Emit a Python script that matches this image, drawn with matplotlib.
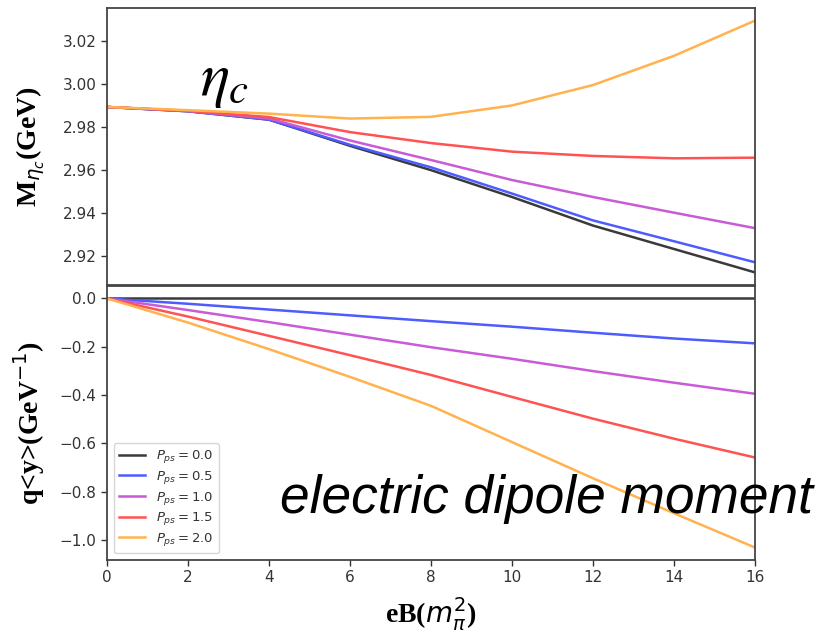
"""
eta_c mass and electric dipole moment vs magnetic field, for several P_ps values
"""

import matplotlib
matplotlib.use('Agg')
import matplotlib.pyplot as plt

# eB in units of m_pi^2
eB = [0, 2, 4, 6, 8, 10, 12, 14, 16]
p_ps = [0.0, 0.5, 1.0, 1.5, 2.0]

# M_eta_c (GeV)
mass_00 = [2.9892, 2.9872, 2.9833, 2.9711, 2.9598, 2.9473, 2.9340, 2.9231, 2.9122]
mass_05 = [2.9892, 2.9872, 2.9833, 2.9716, 2.9611, 2.9489, 2.9364, 2.9267, 2.9169]
mass_10 = [2.9892, 2.9873, 2.9838, 2.9736, 2.9645, 2.9552, 2.9473, 2.9400, 2.9328]
mass_15 = [2.9892, 2.9874, 2.9845, 2.9775, 2.9724, 2.9684, 2.9664, 2.9653, 2.9656]
mass_20 = [2.9892, 2.9877, 2.9861, 2.9838, 2.9846, 2.9899, 2.9994, 3.0130, 3.0294]

# q<y> (GeV^-1)
dip_00 = [0, 0, 0, 0, 0, 0, 0, 0, 0]
dip_05 = [0, -0.022, -0.046, -0.070, -0.094, -0.117, -0.142, -0.166, -0.186]
dip_10 = [0, -0.048, -0.098, -0.150, -0.202, -0.250, -0.301, -0.349, -0.395]
dip_15 = [0, -0.075, -0.155, -0.235, -0.317, -0.408, -0.498, -0.581, -0.659]
dip_20 = [0, -0.100, -0.210, -0.325, -0.445, -0.595, -0.745, -0.890, -1.032]

colors = ['#3a3a3a', '#4d5cff', '#c95bd6', '#ff5252', '#ffb24d']

masses = [mass_00, mass_05, mass_10, mass_15, mass_20]
dipoles = [dip_00, dip_05, dip_10, dip_15, dip_20]

fig = plt.figure(figsize=(8.18, 6.33), dpi=100)
W, H = 818, 633

def px_axes(left, top, right, bottom):
    return fig.add_axes([left / W, 1 - bottom / H, (right - left) / W, (bottom - top) / H])

ax1 = px_axes(107, 8, 755, 285)
ax2 = px_axes(107, 286, 755, 560)

for m, d, c, p in zip(masses, dipoles, colors, p_ps):
    ax1.plot(eB, m, color=c, lw=1.8)
    ax2.plot(eB, d, color=c, lw=1.8, label=r'$P_{ps}=%.1f$' % p)

label_font = dict(family='Liberation Serif', weight='bold', size=20)

ax1.set_xlim(0, 16)
ax2.set_xlim(0, 16)
ax1.set_yticks([2.92, 2.94, 2.96, 2.98, 3.00, 3.02])
ax2.set_yticks([0.0, -0.2, -0.4, -0.6, -0.8, -1.0])
ax2.set_xticks(range(0, 17, 2))
ax1.tick_params(axis='x', bottom=False, labelbottom=False)

for ax in (ax1, ax2):
    ax.tick_params(labelsize=11, colors='#333333', length=4.5, width=1, pad=3)
    for s in ax.spines.values():
        s.set_color('#444444')
        s.set_linewidth(1.3)

ax1.set_ylabel(r'M$_{\eta_c}$(GeV)', fontdict=label_font)
ax1.yaxis.set_label_coords(-0.092, 0.5)
ax2.set_ylabel(r'q<y>(GeV$^{-1}$)', fontdict=label_font)
ax2.yaxis.set_label_coords(-0.092, 0.5)
ax2.set_xlabel(r'eB($m_\pi^2$)', fontdict=label_font)
ax2.xaxis.set_label_coords(0.5, -0.128)

leg = ax2.legend(loc='lower left', fontsize=9.5, handlelength=2.0, labelspacing=0.28)
for t in leg.get_texts():
    t.set_color('#333333')

# annotations
fig.text(200 / W, 1 - 95 / H, r'$\eta_c$', fontsize=44, math_fontfamily='stix',
         ha='left', va='baseline')
fig.text(280 / W, 1 - 513 / H, 'electric dipole moment', family='Liberation Sans',
         style='italic', fontsize=38.3, ha='left', va='baseline')

plt.savefig('out.png', dpi=100)
